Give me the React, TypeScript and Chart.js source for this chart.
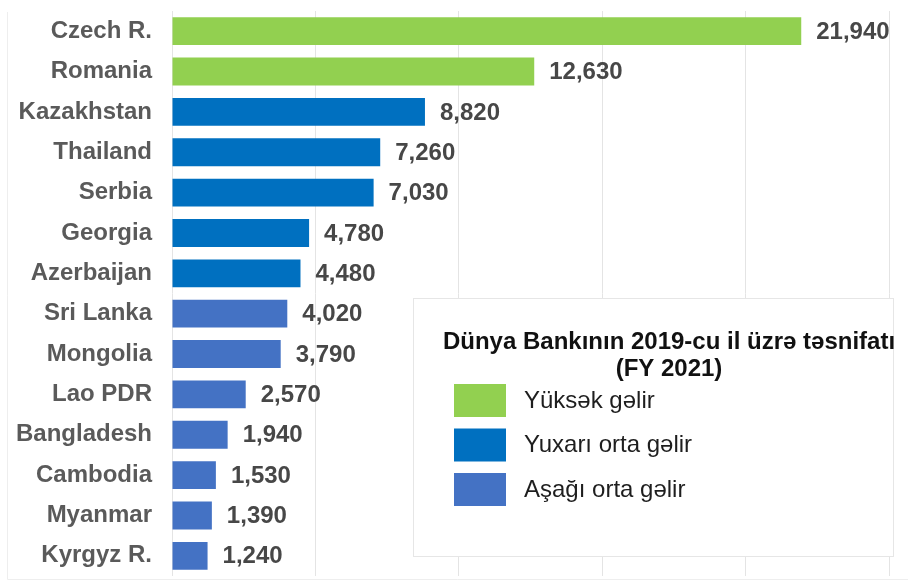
import React, { useEffect, useRef } from "react";
import { Chart, registerables } from "chart.js";

Chart.register(...registerables);

const categories = [
  "Czech R.", "Romania", "Kazakhstan", "Thailand", "Serbia", "Georgia", "Azerbaijan",
  "Sri Lanka", "Mongolia", "Lao PDR", "Bangladesh", "Cambodia", "Myanmar", "Kyrgyz R.",
];
const values = [21940, 12630, 8820, 7260, 7030, 4780, 4480, 4020, 3790, 2570, 1940, 1530, 1390, 1240];
// income group per category: 0 = high, 1 = upper middle, 2 = lower middle
const groups = [0, 0, 1, 1, 1, 1, 1, 2, 2, 2, 2, 2, 2, 2];
const groupColors = ["#92D050", "#0070C0", "#4472C4"];
const legendLabels = ["Yüksək gəlir", "Yuxarı orta gəlir", "Aşağı orta gəlir"];
const legendTitle = ["Dünya Bankının 2019-cu il üzrə təsnifatı", "(FY 2021)"];
const xMax = 25000;
const xStep = 5000;

const FONT = "'Liberation Sans', Arial, sans-serif";

const valueLabelPlugin = {
  id: "valueLabels",
  afterDatasetsDraw(chart: any) {
    const ctx = chart.ctx;
    const meta = chart.getDatasetMeta(0);
    ctx.save();
    ctx.font = `bold 24px ${FONT}`;
    ctx.fillStyle = "#474747";
    ctx.textAlign = "left";
    ctx.textBaseline = "middle";
    meta.data.forEach((bar: any, i: number) => {
      ctx.fillText(values[i].toLocaleString("en-US"), bar.x + 15, bar.y + 1);
    });
    ctx.restore();
  },
};

const legendBoxPlugin = {
  id: "legendBox",
  afterDraw(chart: any) {
    const ctx = chart.ctx;
    const x0 = 413;
    const y0 = 298;
    const w = 480;
    const h = 258;
    ctx.save();
    ctx.fillStyle = "#ffffff";
    ctx.fillRect(x0, y0, w, h);
    ctx.strokeStyle = "#e6e6e6";
    ctx.lineWidth = 1;
    ctx.strokeRect(x0 + 0.5, y0 + 0.5, w, h);
    ctx.fillStyle = "#111111";
    ctx.font = `bold 24px ${FONT}`;
    ctx.textAlign = "center";
    ctx.textBaseline = "middle";
    ctx.fillText(legendTitle[0], x0 + 256, y0 + 44);
    ctx.fillText(legendTitle[1], x0 + 256, y0 + 71);
    ctx.textAlign = "left";
    ctx.font = `24px ${FONT}`;
    legendLabels.forEach((lab, i) => {
      const cy = y0 + 102 + i * 44.5;
      ctx.fillStyle = groupColors[i];
      ctx.fillRect(x0 + 41, cy - 16, 52, 33);
      ctx.fillStyle = "#1e1e1e";
      ctx.fillText(lab, x0 + 111, cy + 1);
    });
    ctx.restore();
  },
};

const frameBgPlugin = {
  id: "frameBg",
  beforeDraw(chart: any) {
    const ctx = chart.ctx;
    ctx.save();
    ctx.fillStyle = "#ffffff";
    ctx.fillRect(0, 0, chart.width, chart.height);
    ctx.strokeStyle = "#eeeeee";
    ctx.lineWidth = 1;
    ctx.beginPath();
    ctx.moveTo(7.5, 12);
    ctx.lineTo(7.5, 579.5);
    ctx.lineTo(chart.width, 579.5);
    ctx.stroke();
    ctx.restore();
  },
};

export default function App() {
  const ref = useRef<HTMLCanvasElement | null>(null);
  useEffect(() => {
    if (!ref.current) return;
    const chart = new Chart(ref.current, {
      type: "bar",
      data: {
        labels: categories,
        datasets: [
          {
            data: values,
            backgroundColor: groups.map((g) => groupColors[g]),
            barPercentage: 0.69,
            categoryPercentage: 1,
            borderWidth: 0,
          },
        ],
      },
      options: {
        indexAxis: "y",
        responsive: false,
        animation: false,
        layout: { padding: { top: 11, bottom: 7, right: 19, left: 0 } },
        plugins: { legend: { display: false }, tooltip: { enabled: false } },
        scales: {
          x: {
            min: 0,
            max: xMax,
            afterFit: (scale: any) => {
              scale.height = 0;
              scale.paddingLeft = 0;
              scale.paddingRight = 0;
            },
            ticks: { display: false, stepSize: xStep },
            grid: { color: "#e4e4e4", drawTicks: false, lineWidth: 1 },
            border: { display: false },
          },
          y: {
            afterFit: (scale: any) => {
              scale.width = 172;
              scale.paddingTop = 0;
              scale.paddingBottom = 0;
            },
            ticks: {
              color: "#5a5a5a",
              padding: 20,
              font: { family: FONT, size: 24, weight: "bold" },
            },
            grid: { display: false, drawTicks: false },
            border: { display: false },
          },
        },
      },
      plugins: [frameBgPlugin, valueLabelPlugin, legendBoxPlugin],
    } as any);
    return () => chart.destroy();
  }, []);
  return (
    <div style={{ position: "fixed", left: 0, top: 0, width: 908, height: 583, background: "#fff" }}>
      <canvas ref={ref} width={908} height={583} />
    </div>
  );
}
